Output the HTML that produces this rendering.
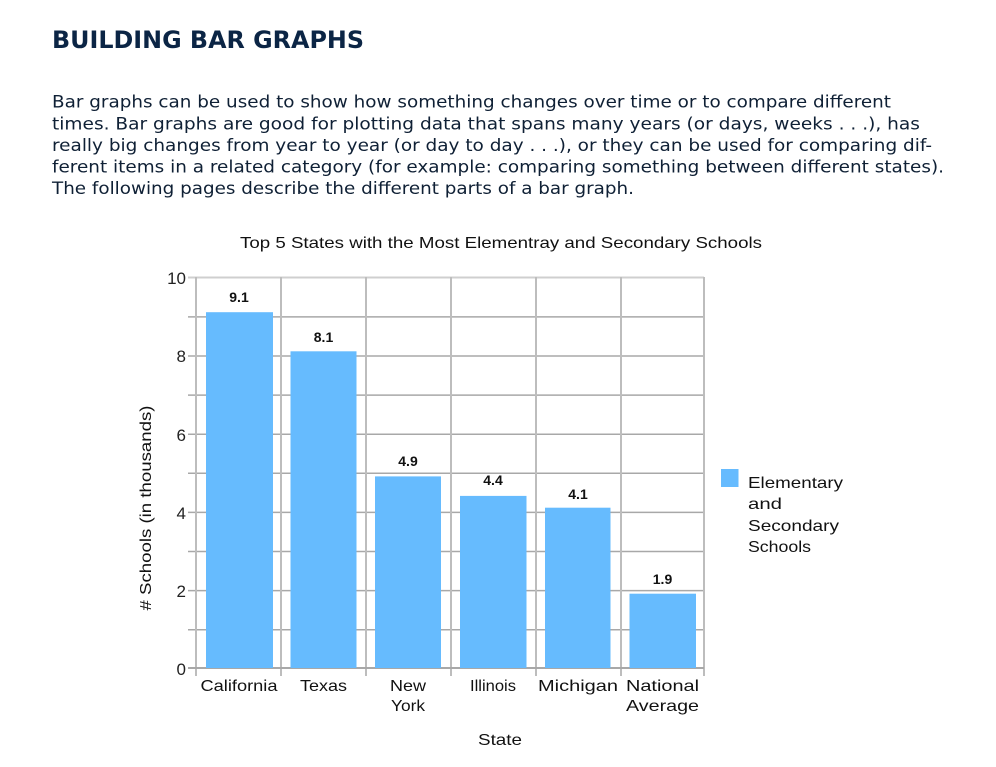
<!DOCTYPE html>
<html><head><meta charset="utf-8"><style>
html,body{margin:0;padding:0;background:#fff;}
svg{display:block;}
</style></head><body>
<svg width="996" height="767" viewBox="0 0 996 767" xmlns="http://www.w3.org/2000/svg">
<rect width="996" height="767" fill="#fff"/>
<g font-family="'DejaVu Sans', Verdana, sans-serif" fill="#0f2035">
<text x="52" y="48" font-size="24" font-weight="bold" fill="#0b2545" textLength="312" lengthAdjust="spacingAndGlyphs">BUILDING BAR GRAPHS</text>
<g font-size="17">
<text x="52" y="107.3" textLength="839" lengthAdjust="spacingAndGlyphs">Bar graphs can be used to show how something changes over time or to compare different</text>
<text x="52" y="129.3" textLength="868" lengthAdjust="spacingAndGlyphs">times. Bar graphs are good for plotting data that spans many years (or days, weeks . . .), has</text>
<text x="52" y="150.8" textLength="880" lengthAdjust="spacingAndGlyphs">really big changes from year to year (or day to day . . .), or they can be used for comparing dif-</text>
<text x="52" y="172.4" textLength="892" lengthAdjust="spacingAndGlyphs">ferent items in a related category (for example: comparing something between different states).</text>
<text x="52" y="194.2" textLength="582" lengthAdjust="spacingAndGlyphs">The following pages describe the different parts of a bar graph.</text>
</g>
</g>

<g font-family="'Liberation Sans', 'DejaVu Sans', sans-serif" fill="#111">
<text x="240" y="248" font-size="16" textLength="522" lengthAdjust="spacingAndGlyphs">Top 5 States with the Most Elementray and Secondary Schools</text>

<g stroke="#a8a8a8" stroke-width="1.5">
<line x1="188" y1="316.9" x2="704" y2="316.9"/>
<line x1="188" y1="356" x2="704" y2="356"/>
<line x1="188" y1="395.1" x2="704" y2="395.1"/>
<line x1="188" y1="434.2" x2="704" y2="434.2"/>
<line x1="188" y1="473.3" x2="704" y2="473.3"/>
<line x1="188" y1="512.4" x2="704" y2="512.4"/>
<line x1="188" y1="551.5" x2="704" y2="551.5"/>
<line x1="188" y1="590.6" x2="704" y2="590.6"/>
<line x1="188" y1="629.7" x2="704" y2="629.7"/>
</g>
<line x1="188" y1="277.5" x2="704" y2="277.5" stroke="#cfcfcf" stroke-width="2"/>
<g stroke="#bdbdbd" stroke-width="2">
<line x1="196" y1="277" x2="196" y2="676"/>
<line x1="281" y1="277" x2="281" y2="676"/>
<line x1="366" y1="277" x2="366" y2="676"/>
<line x1="451" y1="277" x2="451" y2="676"/>
<line x1="536" y1="277" x2="536" y2="676"/>
<line x1="621" y1="277" x2="621" y2="676"/>
<line x1="704" y1="277" x2="704" y2="676"/>
</g>
<line x1="188" y1="668" x2="704" y2="668" stroke="#a8a8a8" stroke-width="2"/>

<g fill="#66bbfe">
<rect x="206" y="312.2" width="67" height="355.8"/>
<rect x="290.5" y="351.3" width="66" height="316.7"/>
<rect x="375" y="476.4" width="66" height="191.6"/>
<rect x="460" y="495.9" width="66.5" height="172.1"/>
<rect x="545" y="507.7" width="65.5" height="160.3"/>
<rect x="629.5" y="593.7" width="66.5" height="74.3"/>
</g>

<g font-size="14" font-weight="bold" text-anchor="middle" fill="#111">
<text x="239" y="302">9.1</text>
<text x="323.5" y="342">8.1</text>
<text x="408" y="466">4.9</text>
<text x="493" y="485">4.4</text>
<text x="578" y="499">4.1</text>
<text x="662.5" y="584">1.9</text>
</g>

<g font-size="17" text-anchor="end" fill="#222">
<text x="186" y="284">10</text>
<text x="186" y="362">8</text>
<text x="186" y="441">6</text>
<text x="186" y="519">4</text>
<text x="186" y="597">2</text>
<text x="186" y="675">0</text>
</g>
<text transform="translate(151,508) rotate(-90)" font-size="16" text-anchor="middle" textLength="205" lengthAdjust="spacingAndGlyphs">#  Schools (in thousands)</text>

<g font-size="16" text-anchor="middle" fill="#111">
<text x="239" y="691" textLength="77" lengthAdjust="spacingAndGlyphs">California</text>
<text x="323.5" y="691" textLength="47" lengthAdjust="spacingAndGlyphs">Texas</text>
<text x="408" y="691" textLength="36" lengthAdjust="spacingAndGlyphs">New</text>
<text x="408" y="711" textLength="34" lengthAdjust="spacingAndGlyphs">York</text>
<text x="493" y="691" textLength="46" lengthAdjust="spacingAndGlyphs">Illinois</text>
<text x="578" y="691" textLength="80" lengthAdjust="spacingAndGlyphs">Michigan</text>
<text x="662.5" y="691" textLength="73" lengthAdjust="spacingAndGlyphs">National</text>
<text x="662.5" y="711" textLength="73" lengthAdjust="spacingAndGlyphs">Average</text>
<text x="500" y="745" textLength="44" lengthAdjust="spacingAndGlyphs">State</text>
</g>

<rect x="721" y="469" width="17.5" height="18" fill="#66bbfe"/>
<g font-size="16" fill="#111">
<text x="748" y="488" textLength="95" lengthAdjust="spacingAndGlyphs">Elementary</text>
<text x="748" y="509" textLength="34" lengthAdjust="spacingAndGlyphs">and</text>
<text x="748" y="531" textLength="91" lengthAdjust="spacingAndGlyphs">Secondary</text>
<text x="748" y="552" textLength="63" lengthAdjust="spacingAndGlyphs">Schools</text>
</g>
</g>
</svg>
</body></html>
